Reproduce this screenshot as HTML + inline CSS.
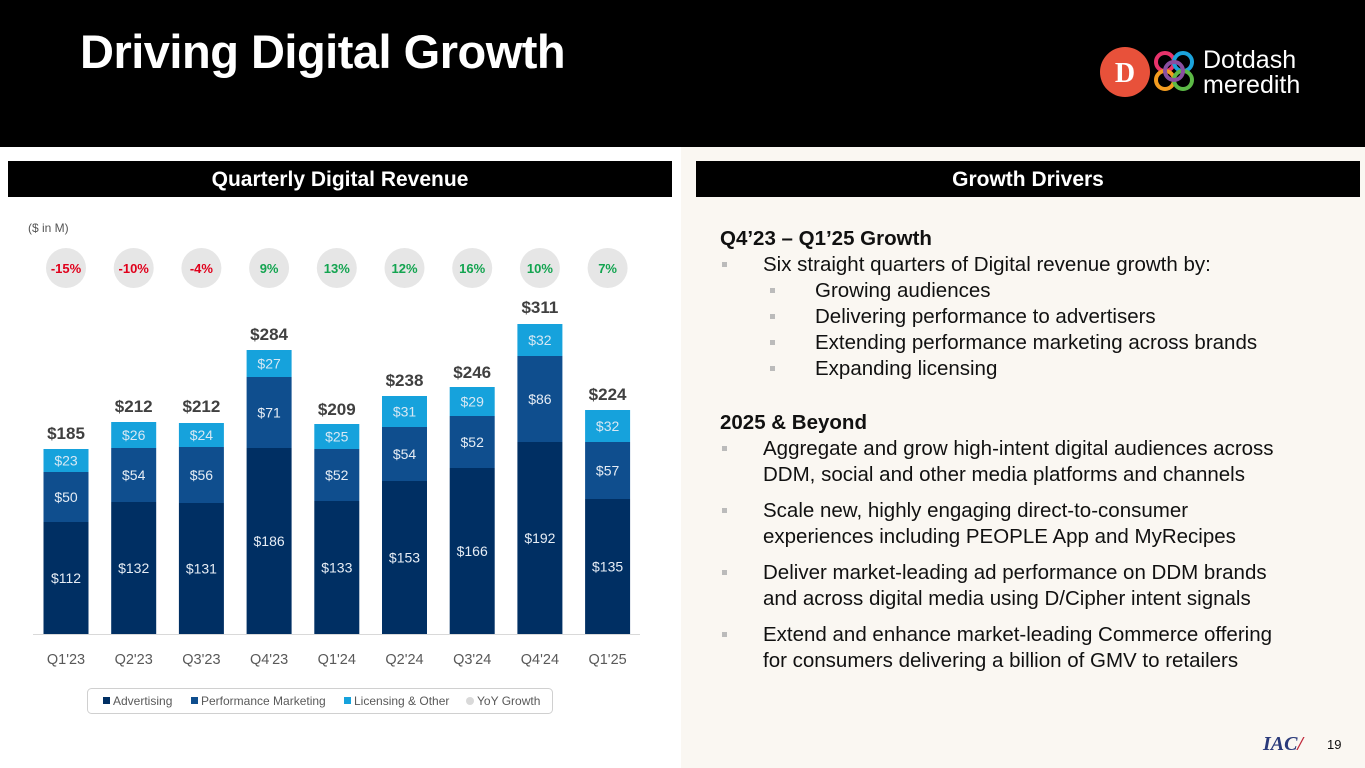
<!DOCTYPE html>
<html><head><meta charset="utf-8"><style>
body{margin:0;width:1365px;height:768px;overflow:hidden;background:#fff;font-family:"Liberation Sans",sans-serif;position:relative}
.hdr{position:absolute;left:0;top:0;width:1365px;height:147px;background:#000}
.title{position:absolute;left:80px;top:24px;color:#fff;font-size:47px;font-weight:bold;letter-spacing:-0.5px}
.rp{position:absolute;left:681px;top:147px;width:684px;height:621px;background:#faf7f2}
.sec{position:absolute;top:161px;height:36px;background:#000;color:#fff;font-weight:bold;font-size:21px;text-align:center;line-height:37px}
.txt{position:absolute;left:720px;top:226px;color:#111;font-size:20.5px;line-height:26px}
.txt .h{font-weight:bold}
.txt .b1{position:relative;padding-left:43px}
.txt .b2{position:relative;padding-left:95px}
.txt .b1:before,.txt .b2:before{content:"";position:absolute;top:10px;width:5px;height:5px;background:#bbb}
.txt .b1:before{left:2px}.txt .b2:before{left:50px}
</style></head><body>
<div class="hdr"></div>
<div class="title">Driving Digital Growth</div>
<svg style="position:absolute;left:1095px;top:40px" width="230" height="62">
<circle cx="30" cy="32" r="25" fill="#e8513a"/><text x="30" y="42" text-anchor="middle" fill="#fff" font-size="28" font-weight="bold" font-family="Liberation Serif">D</text>
<g fill="none" stroke-width="4"><circle cx="70" cy="22" r="9" stroke="#e8336b"/><circle cx="88" cy="22" r="9" stroke="#1ba3dc"/><circle cx="70" cy="40" r="9" stroke="#f39c1f"/><circle cx="88" cy="40" r="9" stroke="#5cb946"/><circle cx="79" cy="31" r="9" stroke="#8a4fa0"/></g>
<text x="108" y="28" fill="#fff" font-size="25">Dotdash</text><text x="108" y="53" fill="#fff" font-size="25">meredith</text></svg>
<div class="rp"></div>
<div class="sec" style="left:8px;width:664px">Quarterly Digital Revenue</div>
<div class="sec" style="left:696px;width:664px">Growth Drivers</div>
<div style="position:absolute;left:28px;top:221px;font-size:12px;color:#555">($ in M)</div>
<svg id="chart" style="position:absolute;left:0;top:0" width="680" height="768"></svg>
<div class="txt">
<div class="h">Q4’23 – Q1’25 Growth</div>
<div class="b1">Six straight quarters of Digital revenue growth by:</div>
<div class="b2">Growing audiences</div>
<div class="b2">Delivering performance to advertisers</div>
<div class="b2">Extending performance marketing across brands</div>
<div class="b2">Expanding licensing</div>
<div class="h" style="margin-top:28px">2025 &amp; Beyond</div>
<div class="b1">Aggregate and grow high-intent digital audiences across<br>DDM, social and other media platforms and channels</div>
<div class="b1" style="margin-top:10px">Scale new, highly engaging direct-to-consumer<br>experiences including PEOPLE App and MyRecipes</div>
<div class="b1" style="margin-top:10px">Deliver market-leading ad performance on DDM brands<br>and across digital media using D/Cipher intent signals</div>
<div class="b1" style="margin-top:10px">Extend and enhance market-leading Commerce offering<br>for consumers delivering a billion of GMV to retailers</div>
</div>
<div style="position:absolute;left:1263px;top:733px;font-family:'Liberation Serif',serif;font-style:italic;font-weight:bold;color:#2a3a7a;font-size:20px">IAC<span style="color:#c0283a">/</span></div>
<div style="position:absolute;left:1327px;top:737px;font-size:13px;color:#111">19</div>
<script>
const categories=["Q1'23","Q2'23","Q3'23","Q4'23","Q1'24","Q2'24","Q3'24","Q4'24","Q1'25"];
const advertising=[112,132,131,186,133,153,166,192,135];
const performance=[50,54,56,71,52,54,52,86,57];
const licensing=[23,26,24,27,25,31,29,32,32];
const totals=[185,212,212,284,209,238,246,311,224];
const yoy=[-15,-10,-4,9,13,12,16,10,7];
const svg=document.getElementById('chart');const NS='http://www.w3.org/2000/svg';
const base=634,scale=1.0,x0=66,step=67.7,bw=45;
const F='"Liberation Sans Narrow","Liberation Sans",sans-serif';
const xc=i=>x0+i*step, yv=v=>base-v*scale;
function mk(t,a){const e=document.createElementNS(NS,t);for(const k in a)e.setAttribute(k,a[k]);svg.appendChild(e);return e;}
const series=[[advertising,'#002f63','#e6edf5','seg-advertising'],[performance,'#0f4e8e','#e6edf5','seg-performance-marketing'],[licensing,'#16a2dc','#d7e8f4','seg-licensing']];
mk('line',{x1:33,x2:640,y1:base+0.5,y2:base+0.5,stroke:'#d9d9d9'});
categories.forEach((c,i)=>{
 let acc=0;
 series.forEach(s=>{const v=s[0][i];const r=mk('rect',{x:xc(i)-bw/2,y:yv(acc+v),width:bw,height:v*scale,fill:s[1]});
 
 
 const t=mk('text',{x:xc(i),y:yv(acc+v/2)+5,'text-anchor':'middle',fill:s[2],'font-size':14,'font-family':F});t.textContent='$'+v;
 
 acc+=v;});
 const tt=mk('text',{x:xc(i),y:yv(totals[i])-10,'text-anchor':'middle',fill:'#404040','font-size':17,'font-weight':'bold','font-family':F});tt.textContent='$'+totals[i];
 
 const cc=mk('ellipse',{cx:xc(i),cy:268,rx:20,ry:20,fill:'#e6e6e6'});
 
 const gt=mk('text',{x:xc(i),y:273,'text-anchor':'middle',fill:yoy[i]<0?'#e0001b':'#13a450','font-size':13,'font-weight':'bold','font-family':F});gt.textContent=yoy[i]+'%';
 
 const xl=mk('text',{x:xc(i),y:664,'text-anchor':'middle',fill:'#595959','font-size':14.5,'font-family':F});xl.textContent=c;
 
});
const lg=mk('rect',{x:87.5,y:688.5,width:465,height:25,rx:4,fill:'#fff',stroke:'#d0d0d0'});

const items=[['#002f63','Advertising',103,'rect'],['#0f4e8e','Performance Marketing',191,'rect'],['#16a2dc','Licensing & Other',344,'rect'],['#d9d9d9','YoY Growth',467,'circ']];
items.forEach(it=>{
 if(it[3]=='rect')mk('rect',{x:it[2],y:697,width:7,height:7,fill:it[0]});else mk('circle',{cx:it[2]+3,cy:701,r:4,fill:it[0]});
 const t=mk('text',{x:it[2]+10,y:705,fill:'#595959','font-size':12,'font-family':F});t.textContent=it[1];
 
});
</script>
</body></html>
